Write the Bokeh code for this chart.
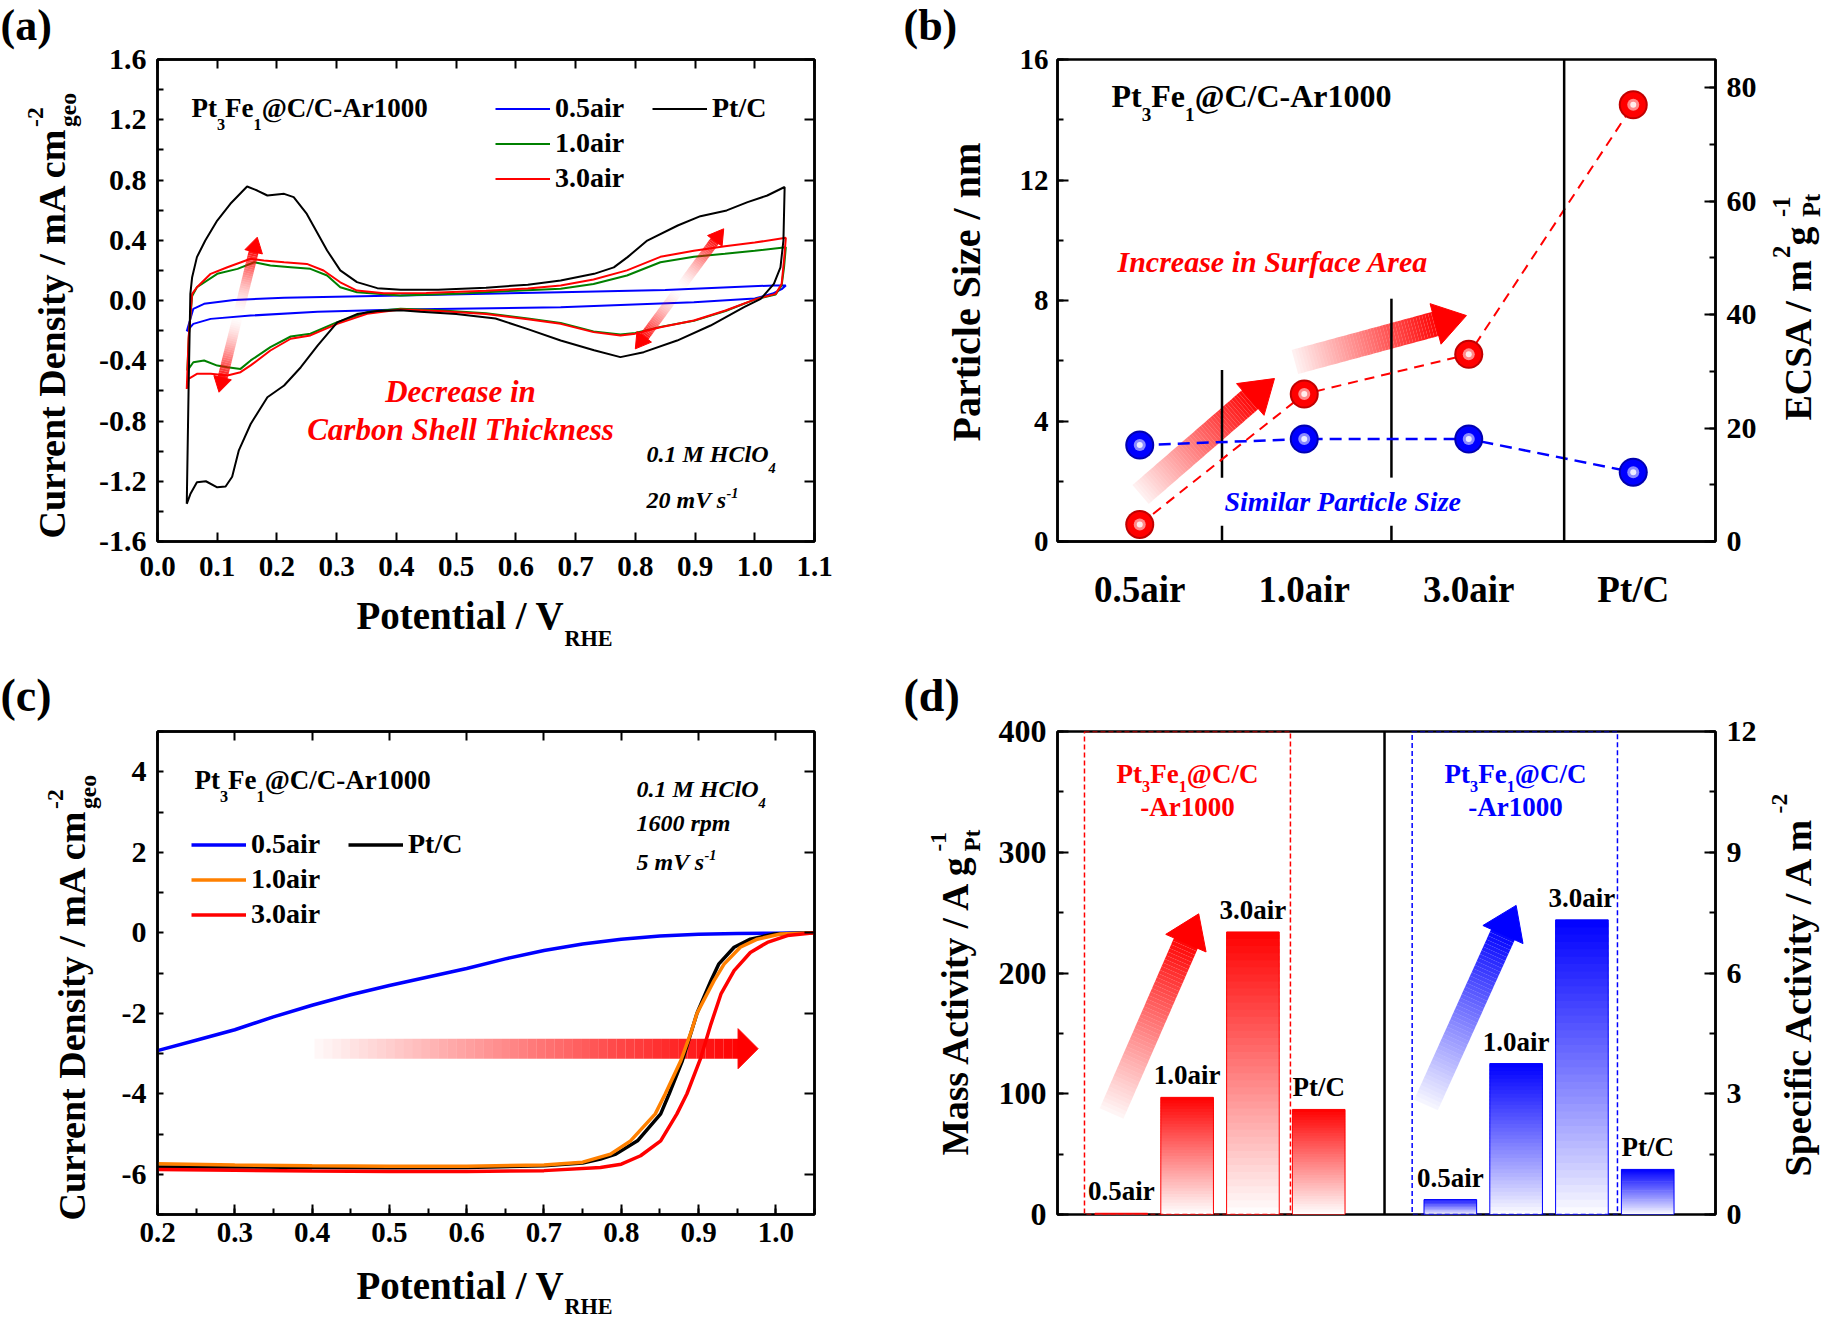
import math
from bokeh.plotting import figure
from bokeh.models import (Range1d, FactorRange, LinearAxis, SingleIntervalTicker,
                          PrintfTickFormatter, CustomJSTickFormatter, Label, Legend,
                          LegendItem, Span, GridBox)
from bokeh.embed import file_html
from bokeh.resources import INLINE
from bokeh.core.properties import value

FONT = "Liberation Serif"

# ============================ DATA ============================
# (a) cyclic voltammograms, potential (V_RHE) / current density (mA cm-2)
cv_E_05 = [0.049, 0.060, 0.078, 0.128, 0.212, 0.407, 0.675, 0.850, 1.032, 1.052,
           1.052, 1.045, 1.030, 1.000, 0.898, 0.675, 0.407, 0.268, 0.156, 0.089, 0.060, 0.049]
cv_j_05 = [-0.204, -0.055, -0.022, 0.004, 0.018, 0.033, 0.055, 0.070, 0.100, 0.100,
           0.100, 0.075, 0.046, 0.013, -0.011, -0.044, -0.060, -0.075, -0.100, -0.122, -0.155, -0.204]

cv_E_10 = [0.050, 0.053, 0.058, 0.066, 0.100, 0.134, 0.162, 0.189, 0.223, 0.256, 0.284, 0.306,
           0.334, 0.407, 0.500, 0.600, 0.675, 0.730, 0.786, 0.842, 0.898, 0.950, 1.000, 1.052,
           1.052, 1.049, 1.045, 1.035, 1.003, 0.951, 0.898, 0.842, 0.800, 0.775, 0.730, 0.675,
           0.620, 0.550, 0.470, 0.407, 0.351, 0.301, 0.256, 0.223, 0.189, 0.156, 0.139, 0.117,
           0.100, 0.078, 0.060, 0.050]
cv_j_10 = [-0.465, -0.200, 0.030, 0.088, 0.177, 0.210, 0.254, 0.232, 0.221, 0.210, 0.166, 0.088,
           0.055, 0.033, 0.045, 0.065, 0.078, 0.110, 0.166, 0.254, 0.290, 0.310, 0.330, 0.354,
           0.354, 0.220, 0.100, 0.040, 0.011, -0.070, -0.135, -0.175, -0.215, -0.225, -0.205, -0.150,
           -0.120, -0.085, -0.065, -0.055, -0.077, -0.144, -0.221, -0.239, -0.310, -0.398, -0.454, -0.443,
           -0.432, -0.398, -0.410, -0.465]

cv_E_30 = [0.049, 0.052, 0.058, 0.066, 0.089, 0.117, 0.156, 0.178, 0.212, 0.250, 0.278, 0.306,
           0.334, 0.379, 0.450, 0.550, 0.620, 0.675, 0.730, 0.786, 0.842, 0.898, 0.950, 1.000, 1.052,
           1.052, 1.049, 1.045, 1.035, 1.003, 0.951, 0.898, 0.842, 0.800, 0.775, 0.730, 0.675,
           0.620, 0.550, 0.470, 0.407, 0.351, 0.301, 0.256, 0.223, 0.189, 0.156, 0.139, 0.117,
           0.089, 0.066, 0.052, 0.049]
cv_j_30 = [-0.587, -0.250, 0.044, 0.088, 0.177, 0.221, 0.277, 0.266, 0.254, 0.243, 0.199, 0.121,
           0.066, 0.048, 0.050, 0.065, 0.080, 0.100, 0.140, 0.200, 0.290, 0.330, 0.360, 0.385, 0.416,
           0.416, 0.270, 0.110, 0.044, 0.011, -0.066, -0.133, -0.177, -0.220, -0.232, -0.210, -0.155,
           -0.125, -0.090, -0.070, -0.060, -0.088, -0.155, -0.232, -0.254, -0.332, -0.431, -0.476, -0.498,
           -0.487, -0.487, -0.520, -0.587]

cv_E_pt = [0.049, 0.052, 0.055, 0.058, 0.066, 0.080, 0.100, 0.122, 0.150, 0.167, 0.184, 0.212,
           0.228, 0.250, 0.284, 0.306, 0.334, 0.368, 0.407, 0.470, 0.550, 0.620, 0.675, 0.731,
           0.764, 0.787, 0.820, 0.871, 0.909, 0.953, 0.988, 1.021, 1.049,
           1.050, 1.048, 1.043, 1.032, 1.010, 0.982, 0.926, 0.870, 0.814, 0.775, 0.731, 0.675,
           0.620, 0.566, 0.500, 0.440, 0.407, 0.368, 0.334, 0.301, 0.268, 0.240, 0.212, 0.184,
           0.156, 0.136, 0.125, 0.114, 0.100, 0.081, 0.066, 0.055, 0.049]
cv_j_pt = [-1.350, -0.600, 0.044, 0.155, 0.288, 0.398, 0.531, 0.642, 0.757, 0.730, 0.697, 0.708,
           0.686, 0.575, 0.332, 0.200, 0.122, 0.082, 0.071, 0.072, 0.085, 0.105, 0.133, 0.177,
           0.220, 0.288, 0.398, 0.498, 0.560, 0.598, 0.653, 0.697, 0.752,
           0.752, 0.400, 0.220, 0.110, 0.011, -0.044, -0.166, -0.266, -0.343, -0.376, -0.330, -0.266,
           -0.190, -0.120, -0.090, -0.075, -0.065, -0.070, -0.090, -0.145, -0.300, -0.443, -0.564, -0.642,
           -0.820, -0.997, -1.170, -1.235, -1.240, -1.200, -1.207, -1.285, -1.350]

# (c) ORR polarisation curves
lsv_E_05 = [0.20, 0.25, 0.30, 0.35, 0.40, 0.45, 0.50, 0.55, 0.60, 0.65, 0.70, 0.75, 0.80,
            0.85, 0.90, 0.95, 1.00, 1.05]
lsv_j_05 = [-2.93, -2.67, -2.41, -2.09, -1.80, -1.54, -1.31, -1.10, -0.89, -0.65, -0.44, -0.28,
            -0.16, -0.08, -0.04, -0.02, -0.01, 0.00]
lsv_E_10 = [0.20, 0.30, 0.40, 0.50, 0.60, 0.70, 0.75, 0.786, 0.812, 0.844, 0.857, 0.877, 0.891,
            0.898, 0.920, 0.933, 0.954, 0.976, 1.006, 1.05]
lsv_j_10 = [-5.74, -5.77, -5.79, -5.80, -5.80, -5.77, -5.70, -5.50, -5.17, -4.50, -4.00, -3.18,
            -2.43, -2.00, -1.19, -0.78, -0.36, -0.16, -0.03, 0.00]
lsv_E_30 = [0.20, 0.30, 0.40, 0.50, 0.60, 0.70, 0.773, 0.800, 0.825, 0.851, 0.872, 0.885, 0.903,
            0.916, 0.929, 0.946, 0.967, 0.989, 1.015, 1.05]
lsv_j_30 = [-5.88, -5.90, -5.92, -5.93, -5.93, -5.91, -5.83, -5.75, -5.54, -5.17, -4.50, -4.00,
            -3.10, -2.27, -1.52, -0.94, -0.49, -0.24, -0.07, 0.00]
lsv_E_pt = [0.20, 0.30, 0.40, 0.50, 0.60, 0.70, 0.75, 0.773, 0.793, 0.821, 0.851, 0.862, 0.879,
            0.898, 0.916, 0.926, 0.946, 0.967, 0.998, 1.05]
lsv_j_pt = [-5.82, -5.82, -5.83, -5.84, -5.83, -5.79, -5.72, -5.62, -5.50, -5.17, -4.50, -4.00,
            -3.18, -2.00, -1.19, -0.78, -0.36, -0.16, -0.03, 0.00]

# (b) particle size (nm) and ECSA (m2 g-1)
samples = ["0.5air", "1.0air", "3.0air", "Pt/C"]
particle_size = [3.2, 3.4, 3.4, 2.3]
ecsa = [3.0, 26.0, 33.0, 77.0]

# (d) mass activity (A g-1) and specific activity (A m-2)
mass_activity = [1.0, 97.0, 234.0, 87.0]
specific_activity = [0.37, 3.75, 7.32, 1.12]

# ============================ TEXT METRICS ============================
_common = {" ": 250, "-": 333, ".": 250, "/": 278, "(": 333, ")": 333, ",": 250}
for _d in "0123456789":
    _common[_d] = 500
TB = dict(_common)
TB.update({"@": 930, "A": 722, "B": 667, "C": 722, "D": 722, "E": 667, "F": 611, "G": 778, "H": 778,
           "I": 389, "J": 500, "K": 778, "L": 667, "M": 944, "N": 722, "O": 778, "P": 611, "Q": 778,
           "R": 722, "S": 556, "T": 667, "U": 722, "V": 722, "W": 1000, "X": 722, "Y": 722, "Z": 667,
           "a": 500, "b": 556, "c": 444, "d": 556, "e": 444, "f": 333, "g": 500, "h": 556, "i": 278,
           "j": 333, "k": 556, "l": 278, "m": 833, "n": 556, "o": 500, "p": 556, "q": 556, "r": 444,
           "s": 389, "t": 333, "u": 556, "v": 500, "w": 722, "x": 500, "y": 500, "z": 444})
TBI = dict(_common)
TBI.update({"@": 832, "A": 667, "B": 667, "C": 667, "D": 722, "E": 667, "F": 667, "G": 722, "H": 778,
            "I": 389, "J": 500, "K": 667, "L": 611, "M": 889, "N": 722, "O": 722, "P": 611, "Q": 722,
            "R": 667, "S": 556, "T": 611, "U": 722, "V": 667, "W": 889, "X": 667, "Y": 611, "Z": 611,
            "a": 500, "b": 500, "c": 444, "d": 500, "e": 444, "f": 333, "g": 500, "h": 556, "i": 278,
            "j": 278, "k": 500, "l": 278, "m": 778, "n": 556, "o": 500, "p": 500, "q": 500, "r": 389,
            "s": 389, "t": 278, "u": 556, "v": 444, "w": 667, "x": 500, "y": 444, "z": 389})


def text_w(s, size, italic=False):
    t = TBI if italic else TB
    return sum(t.get(ch, 500) for ch in s) * size / 1000.0


# ============================ HELPERS ============================
class Panel:
    def __init__(self, p, ox, oy, W, H, FL, FR, FT, FB, xr, yranges):
        self.p, self.ox, self.oy, self.W, self.H = p, ox, oy, W, H
        self.FL, self.FR, self.FT, self.FB = FL, FR, FT, FB
        self.fw = W - FL - FR
        self.fh = H - FT - FB
        self.xr = xr
        self.yranges = yranges

    def sx(self, gx):
        return gx - self.ox - self.FL

    def sy(self, gy):
        return (self.oy + self.H - self.FB) - gy


def make_fig(W, H, FL, FR, FT, FB, x_range, y_range, **kw):
    p = figure(width=W, height=H, x_range=x_range, y_range=y_range, output_backend="svg",
               toolbar_location=None, min_border_left=FL, min_border_right=FR,
               min_border_top=FT, min_border_bottom=FB, **kw)
    p.xgrid.visible = False
    p.ygrid.visible = False
    p.outline_line_color = "black"
    p.outline_line_width = 2.5
    p.outline_line_alpha = 1.0
    p.background_fill_color = "white"
    p.border_fill_color = "white"
    return p


def style_axis(ax, ticker, formatter, maj_in, min_in, size, standoff, labels=True):
    ax.ticker = ticker
    ax.formatter = formatter if labels else CustomJSTickFormatter(code="return ''")
    ax.major_tick_in = maj_in
    ax.major_tick_out = 0
    ax.minor_tick_in = min_in
    ax.minor_tick_out = 0
    ax.major_tick_line_width = 2
    ax.minor_tick_line_width = 2
    if maj_in == 0:
        ax.major_tick_line_color = None
    if min_in == 0:
        ax.minor_tick_line_color = None
    ax.axis_line_width = 2.5
    ax.major_label_text_font = FONT
    ax.major_label_text_font_style = "bold"
    ax.major_label_text_font_size = f"{size}px"
    ax.major_label_text_color = "black"
    ax.major_label_standoff = standoff if labels else 0
    ax.axis_label = None


# transparent overlay covering the whole canvas, used for all free texts
ov_xr = Range1d(0, 1826)
ov_yr = Range1d(1318, 0)
ov = figure(width=1826, height=1318, x_range=ov_xr, y_range=ov_yr,
            output_backend="svg", toolbar_location=None, min_border=0, title=None,
            x_axis_type=None, y_axis_type=None)
ov.xgrid.visible = False
ov.ygrid.visible = False
ov.outline_line_color = None
ov.background_fill_color = None
ov.border_fill_color = None
try:
    ov.frame_align = False
except Exception:
    ov_xr.start, ov_xr.end = 157, 1715
    ov_yr.start, ov_yr.end = 1214, 59

BASE_SHIFT = 0.34


def label(gx, gy, text, size, color="black", style="bold", align="left", angle=0.0):
    if angle == 0.0:
        gy -= BASE_SHIFT * size
    else:
        gx -= BASE_SHIFT * size
    ov.add_layout(Label(x=gx, y=gy, text=text, text_font=FONT, text_font_size=f"{size:.1f}px",
                        text_font_style=style, text_color=color, text_align=align,
                        text_baseline="alphabetic", angle=angle))


def rich(gx, gy, pieces, size, color="black", style="bold", align="left", vertical=False,
         sub_scale=0.62, sup_dy=0.42, sub_dy=0.42):
    italic = "italic" in style
    ss = size * sub_scale

    def pw(pc):
        txt, kind = pc
        if kind == "n":
            return text_w(txt, size, italic)
        if kind in ("sub", "sup"):
            return text_w(txt, ss, italic)
        return max(text_w(txt[0], ss, italic), text_w(txt[1], ss, italic))

    total = sum(pw(pc) for pc in pieces)
    pos = -total / 2.0 if align == "center" else 0.0
    for pc in pieces:
        txt, kind = pc
        w = pw(pc)
        if vertical:
            bx, by = gx, gy - pos

            def place(t, s, off, bx=bx, by=by):
                label(bx + off, by, t, s, color, style, angle=math.pi / 2)
        else:
            bx, by = gx + pos, gy

            def place(t, s, off, bx=bx, by=by):
                label(bx, by + off, t, s, color, style)
        if kind == "n":
            place(txt, size, 0)
        elif kind == "sub":
            place(txt, ss, sub_dy * size)
        elif kind == "sup":
            place(txt, ss, -sup_dy * size)
        else:
            place(txt[0], ss, -sup_dy * size)
            place(txt[1], ss, sub_dy * size)
        pos += w


def make_legend(P, items, gx, gy_top, row_h=35, glyph_w=55, size=28):
    n = len(items)
    leg = Legend(items=items, location=(P.sx(gx), P.sy(gy_top + n * row_h)),
                 orientation="vertical", label_text_font=FONT, label_text_font_style="bold",
                 label_text_font_size=f"{size}px", label_text_color="black",
                 glyph_width=glyph_w, glyph_height=row_h, label_height=row_h,
                 spacing=0, padding=0, margin=0, label_standoff=5,
                 border_line_alpha=0, background_fill_alpha=0)
    P.p.add_layout(leg)


def grad_arrow(P, x0, y0, x1, y1, shaft, head_w, head_l, color=(255, 0, 0), a0=0.0, a1=1.0,
               gamma=1.0, n=48, yname="default"):
    yr = P.yranges[yname]
    kx = P.fw / (P.xr[1] - P.xr[0])
    ky = P.fh / (yr[1] - yr[0])
    dx = (x1 - x0) * kx
    dy = (y1 - y0) * ky
    L = math.hypot(dx, dy)
    ux, uy = dx / L, dy / L
    Ls = L - head_l * 0.85
    hexc = "#%02x%02x%02x" % color
    X0, Y0, X1, Y1, A = [], [], [], [], []
    for i in range(n):
        t0 = Ls * i / n
        t1 = Ls * (i + 1) / n
        X0.append(x0 + ux * t0 / kx)
        Y0.append(y0 + uy * t0 / ky)
        X1.append(x0 + ux * t1 / kx)
        Y1.append(y0 + uy * t1 / ky)
        f = (i + 0.5) / n
        A.append(a0 + (a1 - a0) * f ** gamma)
    P.p.segment(x0=X0, y0=Y0, x1=X1, y1=Y1, line_color=hexc, line_alpha=A, line_width=shaft,
                line_cap="butt", y_range_name=yname)
    pts = [(L, 0.0), (L - head_l, head_w / 2.0), (L - head_l, -head_w / 2.0)]
    hx = [x0 + (ux * a - uy * b) / kx for a, b in pts]
    hy = [y0 + (uy * a + ux * b) / ky for a, b in pts]
    P.p.patch(hx, hy, fill_color=hexc, line_color=hexc, line_width=1, y_range_name=yname)


def grad_bars(p, xs, vals, width, rgb, yname="default", n=40, gamma=1.0):
    L, R, B, T, C = [], [], [], [], []
    for x, v in zip(xs, vals):
        for k in range(n):
            B.append(v * k / n)
            T.append(v * min(k + 1.6, n) / n)
            L.append(x - width / 2.0)
            R.append(x + width / 2.0)
            g = ((k + 0.5) / n) ** gamma
            c = tuple(int(round(255 + (ci - 255) * g)) for ci in rgb)
            C.append("#%02x%02x%02x" % c)
    p.quad(left=L, right=R, bottom=B, top=T, fill_color=C, line_color=None, y_range_name=yname)
    hexc = "#%02x%02x%02x" % rgb
    p.quad(left=[x - width / 2.0 for x in xs], right=[x + width / 2.0 for x in xs],
           bottom=[0] * len(xs), top=vals, fill_alpha=0, line_color=hexc, line_width=1,
           y_range_name=yname)


def sphere(p, xs, ys, dark, base, mid, light, yname="default"):
    p.scatter(xs, ys, size=29, fill_color=dark, line_color=None, y_range_name=yname)
    p.scatter(xs, ys, size=25, fill_color=base, line_color=None, y_range_name=yname)
    p.scatter(xs, ys, size=12, fill_color=mid, line_color=None, y_range_name=yname)
    p.scatter(xs, ys, size=6, fill_color=light, line_color=None, y_range_name=yname)


TITLE = [("Pt", "n"), ("3", "sub"), ("Fe", "n"), ("1", "sub"), ("@C/C-Ar1000", "n")]

# ============================ PANEL (a) ============================
pa = make_fig(902, 672, 157, 88, 59, 131, Range1d(0, 1.1), Range1d(-1.6, 1.6))
A = Panel(pa, 0, 0, 902, 672, 157, 88, 59, 131, (0, 1.1), {"default": (-1.6, 1.6)})
style_axis(pa.xaxis[0], SingleIntervalTicker(interval=0.1, num_minor_ticks=0),
           PrintfTickFormatter(format="%.1f"), 9, 0, 29, 15)
style_axis(pa.yaxis[0], SingleIntervalTicker(interval=0.4, num_minor_ticks=2),
           PrintfTickFormatter(format="%.1f"), 0, 6, 30, 11)
ax = LinearAxis()
style_axis(ax, SingleIntervalTicker(interval=0.1, num_minor_ticks=0), None, 9, 0, 29, 0, labels=False)
pa.add_layout(ax, "above")
ax = LinearAxis()
style_axis(ax, SingleIntervalTicker(interval=0.4, num_minor_ticks=0), None, 10, 0, 29, 0, labels=False)
pa.add_layout(ax, "right")

ra05 = pa.line(cv_E_05, cv_j_05, line_color="#0000ff", line_width=2)
ra10 = pa.line(cv_E_10, cv_j_10, line_color="#008000", line_width=2)
ra30 = pa.line(cv_E_30, cv_j_30, line_color="#ff0000", line_width=2)
rapt = pa.line(cv_E_pt, cv_j_pt, line_color="black", line_width=2)

for cx, cy, tips in [(0.135, -0.0945, [(0.167, 0.42), (0.103, -0.609)]),
                     (0.874, 0.0775, [(0.948, 0.476), (0.800, -0.321)])]:
    for tx, ty in tips:
        grad_arrow(A, cx, cy, tx, ty, 10, 18, 15, a0=0.0, a1=1.0, gamma=1.6, n=30)

make_legend(A, [LegendItem(label="0.5air", renderers=[ra05]),
                LegendItem(label="1.0air", renderers=[ra10]),
                LegendItem(label="3.0air", renderers=[ra30])], 495, 90.5)
make_legend(A, [LegendItem(label="Pt/C", renderers=[rapt])], 652, 90.5)

# ============================ PANEL (b) ============================
pb = make_fig(924, 672, 155, 111, 59, 131, FactorRange(factors=samples), Range1d(0, 16))
pb.extra_y_ranges = {"ecsa": Range1d(0, 85)}
B = Panel(pb, 902, 0, 924, 672, 155, 111, 59, 131, (0, 4), {"default": (0, 16), "ecsa": (0, 85)})
xa = pb.xaxis[0]
xa.major_tick_line_color = None
xa.minor_tick_line_color = None
xa.axis_line_width = 2.5
xa.major_label_text_font = FONT
xa.major_label_text_font_style = "bold"
xa.major_label_text_font_size = "37px"
xa.major_label_text_color = "black"
xa.major_label_standoff = 21
style_axis(pb.yaxis[0], SingleIntervalTicker(interval=4, num_minor_ticks=2),
           PrintfTickFormatter(format="%d"), 11, 6, 29, 9)
ax = LinearAxis(y_range_name="ecsa")
style_axis(ax, SingleIntervalTicker(interval=20, num_minor_ticks=2),
           PrintfTickFormatter(format="%d"), 11, 6, 30, 11)
pb.add_layout(ax, "right")

grad_arrow(B, 0.505, 1.56, 1.319, 5.41, 25, 42, 32, a0=0.05, a1=1.0, gamma=1.0)
grad_arrow(B, 1.443, 5.96, 2.486, 7.50, 25, 42, 32, a0=0.05, a1=1.0, gamma=1.0)

sep_x = [1.0, 2.03]
sep_top = [5.69, 8.06]
pb.segment(x0=sep_x, y0=[2.12, 2.12], x1=sep_x, y1=sep_top, line_color="black", line_width=2.5)
pb.segment(x0=sep_x, y0=[0, 0], x1=sep_x, y1=[0.52, 0.52], line_color="black", line_width=2.5)
pb.add_layout(Span(location=3.08, dimension="height", line_color="black", line_width=2.5))

pb.line(samples, ecsa, y_range_name="ecsa", line_color="#ff0000", line_width=2, line_dash="10 7")
pb.line(samples, particle_size, line_color="#0000ff", line_width=2.5, line_dash="12 7")
sphere(pb, samples, ecsa, "#c00000", "#ff0000", "#ff8a8a", "#ffecec", yname="ecsa")
sphere(pb, samples, particle_size, "#0000b0", "#0000ff", "#8a8aff", "#ececff")

# ============================ PANEL (c) ============================
pc = make_fig(902, 646, 157, 88, 59, 104, Range1d(0.2, 1.05), Range1d(-7, 5))
C = Panel(pc, 0, 672, 902, 646, 157, 88, 59, 104, (0.2, 1.05), {"default": (-7, 5)})
style_axis(pc.xaxis[0], SingleIntervalTicker(interval=0.1, num_minor_ticks=2),
           PrintfTickFormatter(format="%.1f"), 10, 6, 29, 8)
style_axis(pc.yaxis[0], SingleIntervalTicker(interval=2, num_minor_ticks=2),
           PrintfTickFormatter(format="%d"), 0, 6, 30, 11)
ax = LinearAxis()
style_axis(ax, SingleIntervalTicker(interval=0.1, num_minor_ticks=0), None, 9, 0, 29, 0, labels=False)
pc.add_layout(ax, "above")
ax = LinearAxis()
style_axis(ax, SingleIntervalTicker(interval=2, num_minor_ticks=0), None, 10, 0, 29, 0, labels=False)
pc.add_layout(ax, "right")

grad_arrow(C, 0.403, -2.88, 0.977, -2.88, 20, 40, 20, a0=0.02, a1=1.0, gamma=1.0)

rc05 = pc.line(lsv_E_05, lsv_j_05, line_color="#0000ff", line_width=3.5)
rcpt = pc.line(lsv_E_pt, lsv_j_pt, line_color="black", line_width=3.5)
rc10 = pc.line(lsv_E_10, lsv_j_10, line_color="#ff8000", line_width=3.5)
rc30 = pc.line(lsv_E_30, lsv_j_30, line_color="#ff0000", line_width=3.5)

make_legend(C, [LegendItem(label="0.5air", renderers=[rc05]),
                LegendItem(label="1.0air", renderers=[rc10]),
                LegendItem(label="3.0air", renderers=[rc30])], 191, 826.5)
make_legend(C, [LegendItem(label="Pt/C", renderers=[rcpt])], 348, 826.5)

# ============================ PANEL (d) ============================
pd_ = make_fig(924, 646, 155, 111, 59, 104, Range1d(0.03, 10.03), Range1d(0, 400))
pd_.extra_y_ranges = {"sa": Range1d(0, 12)}
D = Panel(pd_, 902, 672, 924, 646, 155, 111, 59, 104, (0.03, 10.03), {"default": (0, 400), "sa": (0, 12)})
pd_.xaxis[0].visible = False
style_axis(pd_.yaxis[0], SingleIntervalTicker(interval=100, num_minor_ticks=2),
           PrintfTickFormatter(format="%d"), 11, 6, 32, 11)
ax = LinearAxis(y_range_name="sa")
style_axis(ax, SingleIntervalTicker(interval=3, num_minor_ticks=2),
           PrintfTickFormatter(format="%d"), 11, 6, 30, 11)
pd_.add_layout(ax, "right")

x_mass = [i + 1 for i in range(len(samples))]
x_spec = [i + 6 for i in range(len(samples))]
grad_bars(pd_, x_mass, mass_activity, 0.8, (255, 0, 0))
grad_bars(pd_, x_spec, specific_activity, 0.8, (0, 0, 255), yname="sa", gamma=0.9)

pd_.add_layout(Span(location=5.0, dimension="height", line_color="black", line_width=2.5))
pd_.quad(left=[0.44], right=[3.57], bottom=[0], top=[400], fill_alpha=0, line_color="#ff0000",
         line_width=1.5, line_dash="5 3")
pd_.quad(left=[5.42], right=[8.54], bottom=[0], top=[400], fill_alpha=0, line_color="#0000ff",
         line_width=1.5, line_dash="5 3")

grad_arrow(D, 0.851, 83.6, 2.176, 249.0, 26, 44, 32, a0=0.03, a1=1.0, gamma=1.0)
grad_arrow(D, 5.63, 90.7, 7.0, 256.0, 26, 44, 32, color=(0, 0, 255), a0=0.03, a1=1.0, gamma=1.0)

pd_.text(x=x_mass, y=mass_activity, text=samples, text_font=value(FONT), text_font_style="bold",
         text_font_size="27px", text_align="center", text_baseline="alphabetic", y_offset=-22,
         text_color="black")
pd_.text(x=x_spec, y=specific_activity, text=samples, text_font=value(FONT), text_font_style="bold",
         text_font_size="27px", text_align="center", text_baseline="alphabetic", y_offset=-22,
         text_color="black", y_range_name="sa")

# ============================ FREE TEXTS (overlay, canvas pixels) ============================
label(0, 40, "(a)", 44)
label(903, 40, "(b)", 44)
label(0, 711, "(c)", 46)
label(903, 711, "(d)", 46)

# (a)
rich(191, 117, TITLE, 27, sub_scale=0.6, sub_dy=0.45)
label(460, 402, "Decrease in", 31, color="#ff0000", style="bold italic", align="center")
label(460, 440, "Carbon Shell Thickness", 31, color="#ff0000", style="bold italic", align="center")
rich(646, 462, [("0.1 M HClO", "n"), ("4", "sub")], 24, style="bold italic", sub_scale=0.6, sub_dy=0.45)
rich(646, 508, [("20 mV s", "n"), ("-1", "sup")], 24, style="bold italic", sub_scale=0.6, sup_dy=0.45)
rich(356, 628, [("Potential / V", "n"), ("RHE", "sub")], 39, sub_scale=0.57, sub_dy=0.44)
rich(64, 538, [("Current Density / mA cm", "n"), (("-2", "geo"), "subsup")], 38,
     vertical=True, sub_scale=0.62, sup_dy=0.55, sub_dy=0.3)

# (b)
rich(1111, 106, TITLE, 32, sub_scale=0.6, sub_dy=0.45)
label(1117, 271, "Increase in Surface Area", 30, color="#ff0000", style="bold italic")
label(1224, 511, "Similar Particle Size", 28, color="#0000ff", style="bold italic")
rich(980, 441, [("Particle Size / nm", "n")], 40, vertical=True)
rich(1810, 420, [("ECSA / m", "n"), ("2", "sup"), (" g", "n"), (("-1", "Pt"), "subsup")], 38,
     vertical=True, sub_scale=0.65, sup_dy=0.55, sub_dy=0.25)

# (c)
rich(194, 789, TITLE, 27, sub_scale=0.6, sub_dy=0.45)
rich(636, 797, [("0.1 M HClO", "n"), ("4", "sub")], 24, style="bold italic", sub_scale=0.6, sub_dy=0.45)
label(636, 831, "1600 rpm", 24, style="bold italic")
rich(636, 870, [("5 mV s", "n"), ("-1", "sup")], 24, style="bold italic", sub_scale=0.6, sup_dy=0.45)
rich(356, 1298, [("Potential / V", "n"), ("RHE", "sub")], 39, sub_scale=0.57, sub_dy=0.4)
rich(84, 1220, [("Current Density / mA cm", "n"), (("-2", "geo"), "subsup")], 38,
     vertical=True, sub_scale=0.62, sup_dy=0.55, sub_dy=0.3)

# (d)
rich(1187, 783, TITLE[:4] + [("@C/C", "n")], 27, color="#ff0000", align="center",
     sub_scale=0.6, sub_dy=0.3)
label(1187, 816, "-Ar1000", 27, color="#ff0000", align="center")
rich(1515, 783, TITLE[:4] + [("@C/C", "n")], 27, color="#0000ff", align="center",
     sub_scale=0.6, sub_dy=0.3)
label(1515, 816, "-Ar1000", 27, color="#0000ff", align="center")
rich(968, 1155, [("Mass Activity / A g", "n"), (("-1", "Pt"), "subsup")], 37.5,
     vertical=True, sub_scale=0.62, sup_dy=0.6, sub_dy=0.3)
rich(1810, 1176, [("Specific Activity / A m", "n"), ("-2", "sup")], 38,
     vertical=True, sub_scale=0.62, sup_dy=0.6)

grid = GridBox(children=[(pa, 0, 0), (pb, 0, 1), (pc, 1, 0), (pd_, 1, 1), (ov, 0, 0, 2, 2)],
               spacing=0)
open("out.html", "w").write(file_html(grid, INLINE, title="Pt3Fe1@C/C-Ar1000"))
